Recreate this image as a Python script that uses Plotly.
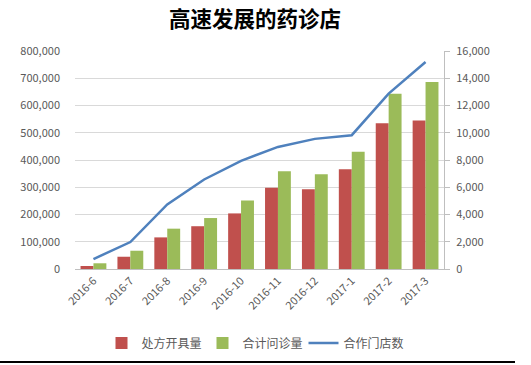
import plotly.graph_objects as go

categories = ["2016-6", "2016-7", "2016-8", "2016-9", "2016-10",
              "2016-11", "2016-12", "2017-1", "2017-2", "2017-3"]
prescriptions = [11000, 45000, 116000, 157000, 204000, 298000, 293000, 366000, 535000, 545000]
consultations = [21000, 67000, 148000, 187000, 251000, 359000, 348000, 430000, 643000, 686000]
stores = [730, 1980, 4740, 6570, 7940, 8960, 9550, 9820, 12870, 15190]

left_ticks = [0, 100000, 200000, 300000, 400000, 500000, 600000, 700000, 800000]
right_ticks = [0, 2000, 4000, 6000, 8000, 10000, 12000, 14000, 16000]

FONT = "Noto Sans CJK SC, Microsoft YaHei, sans-serif"
GRAY = "#595959"

fig = go.Figure()
fig.add_trace(go.Bar(x=categories, y=prescriptions, name="处方开具量",
                     marker=dict(color="#C0504D", line=dict(width=0))))
fig.add_trace(go.Bar(x=categories, y=consultations, name="合计问诊量",
                     marker=dict(color="#9BBB59", line=dict(width=0))))
fig.add_trace(go.Scatter(x=categories, y=stores, name="合作门店数", yaxis="y2",
                         mode="lines", line=dict(color="#4F81BD", width=2.5)))

fig.update_layout(
    width=531, height=365,
    margin=dict(l=75, r=87, t=51, b=96, autoexpand=False),
    paper_bgcolor="white", plot_bgcolor="white",
    font=dict(family=FONT, color=GRAY, size=12),
    title=dict(text="<b>高速发展的药诊店</b>", x=255/531, xanchor="center",
               y=1 - 19/365, yanchor="middle",
               font=dict(family=FONT, size=21.5, color="#000000")),
    barmode="group", bargap=0.3, bargroupgap=0,
    showlegend=True,
    legend=dict(orientation="h", xref="container", yref="container",
                x=253/531, xanchor="center", y=1 - 343/365, yanchor="middle",
                font=dict(size=12, color=GRAY), itemwidth=30,
                entrywidth=56, entrywidthmode="pixels",
                bgcolor="rgba(0,0,0,0)"),
    xaxis=dict(type="category", tickangle=-45, tickfont=dict(size=11, color=GRAY),
               showline=True, linecolor="#bfbfbf", linewidth=1, automargin=False,
               showgrid=False, ticks="", fixedrange=True),
    yaxis=dict(range=[0, 800000], tickvals=left_ticks,
               ticktext=[f"{v:,}" for v in left_ticks],
               showgrid=True, gridcolor="#d9d9d9", gridwidth=1, automargin=False,
               zeroline=False, showline=False, ticks="",
               ticklabelstandoff=14,
               tickfont=dict(size=11, color=GRAY)),
    yaxis2=dict(range=[0, 16000], tickvals=right_ticks,
                ticktext=[f"{v:,}" for v in right_ticks],
                overlaying="y", side="right", showgrid=False, zeroline=False,
                showline=True, linecolor="#bfbfbf", linewidth=1, automargin=False,
                ticks="outside", ticklen=5, tickcolor="#bfbfbf",
                ticklabelstandoff=4,
                tickfont=dict(size=11, color=GRAY)),
    shapes=[dict(type="line", xref="paper", yref="paper",
                 x0=-75/369, x1=(515-75)/369, y0=(269-362)/218, y1=(269-362)/218,
                 line=dict(color="black", width=2), layer="above")],
)

fig.write_html("out.html", config={"displayModeBar": False},
               post_script="document.body.style.margin='0';")
